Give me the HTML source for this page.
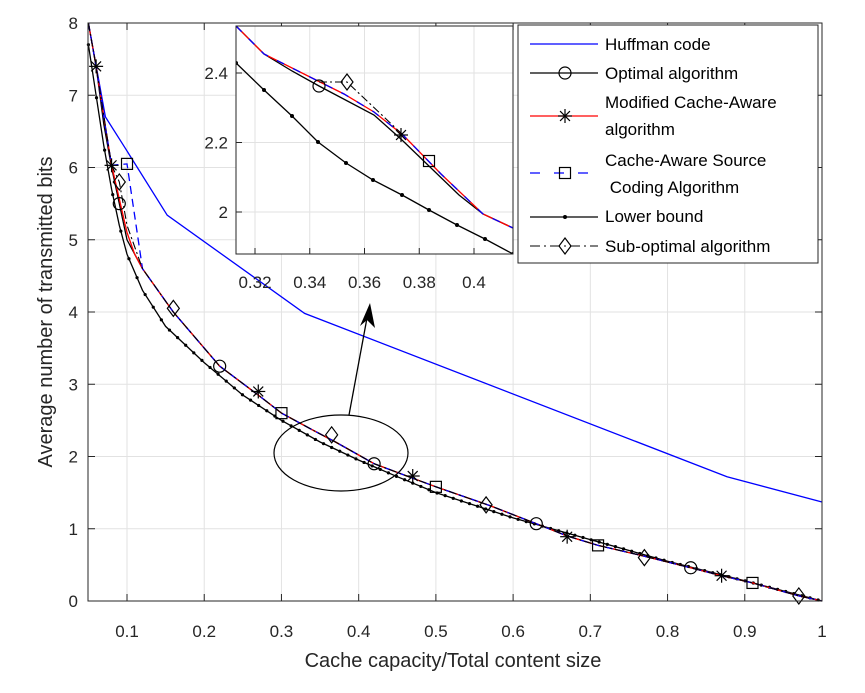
<!DOCTYPE html>
<html><head><meta charset="utf-8"><style>
html,body{margin:0;padding:0;background:#fff;}
svg{display:block;font-family:"Liberation Sans",Arial,sans-serif;}
</style></head><body>
<svg id="s" width="865" height="693" viewBox="0 0 865 693" xmlns="http://www.w3.org/2000/svg"></svg>
<script>
const S=document.getElementById('s');let h='';
const X=x=>88.4+(x-0.05)*772.2, Y=v=>601-v*72.25;
// grid
h+='<rect x="88" y="23" width="734" height="578" fill="#fff"/>';
for(let i=1;i<=10;i++){const x=X(i/10);h+=`<line x1="${x}" y1="23" x2="${x}" y2="601" stroke="#e2e2e2"/>`;}
for(let v=1;v<8;v++){h+=`<line x1="88" y1="${Y(v)}" x2="822" y2="${Y(v)}" stroke="#e2e2e2"/>`;}
function path(pts,fx,fy){return pts.map((p,i)=>(i?'L':'M')+fx(p[0]).toFixed(1)+','+fy(p[1]).toFixed(1)).join(' ');}
const lb=[[0.05,7.7],[0.06,7.0],[0.07,6.3],[0.08,5.7],[0.09,5.2],[0.1,4.8],[0.12,4.3],[0.15,3.8],[0.2,3.3],[0.25,2.85],[0.3,2.5],[0.35,2.2],[0.4,1.95],[0.45,1.72],[0.5,1.5],[0.6,1.15],[0.7,0.85],[0.8,0.55],[0.9,0.28],[1,0]];
const opt=[[0.05,8],[0.06,7.4],[0.07,6.6],[0.08,6.0],[0.09,5.5],[0.1,5.0],[0.12,4.6],[0.16,4.0],[0.22,3.25],[0.27,2.85],[0.3,2.6],[0.34,2.37],[0.37,2.2],[0.42,1.9],[0.47,1.7],[0.5,1.58],[0.57,1.32],[0.63,1.07],[0.67,0.9],[0.71,0.77],[0.77,0.62],[0.83,0.46],[0.87,0.35],[0.91,0.25],[0.97,0.07],[1,0]];
const tail=opt.filter(p=>p[0]>=0.12);
const red=[[0.05,8],[0.06,7.4],[0.07,6.7],[0.08,6.03],[0.1,5.1],[0.11,4.8],...tail];
const ca=[[0.05,8],[0.06,7.4],[0.07,6.7],[0.08,6.03],[0.1,6.05],...tail];
const so=[[0.05,8],[0.06,7.4],[0.08,6.03],[0.09,5.8],[0.1,5.2],...tail];
const huf=[[0.05,8],[0.072,6.7],[0.097,6.28],[0.152,5.34],[0.33,3.98],[0.877,1.72],[1,1.37]];
h+=`<path d="${path(huf,X,Y)}" fill="none" stroke="#0000ff" stroke-width="1.3"/>`;
h+=`<path d="${path(lb,X,Y)}" fill="none" stroke="#000" stroke-width="1.3"/>`;
for(let x=0.05;x<=1.001;x+=0.0105){let i=lb.findIndex(p=>p[0]>=x);if(i<1)i=1;const a=lb[i-1],b=lb[i];const v=a[1]+(b[1]-a[1])*(x-a[0])/(b[0]-a[0]);h+=`<circle cx="${X(x)}" cy="${Y(v)}" r="1.6"/>`;}
h+=`<path d="${path(opt,X,Y)}" fill="none" stroke="#000" stroke-width="1.3"/>`;
h+=`<path d="${path(red,X,Y)}" fill="none" stroke="#ff0000" stroke-width="1.3"/>`;
h+=`<path d="${path(ca,X,Y)}" fill="none" stroke="#0000ff" stroke-width="1.3" stroke-dasharray="8,5"/>`;
h+=`<path d="${path(so,X,Y)}" fill="none" stroke="#000" stroke-width="1.1" stroke-dasharray="8,3,2,3"/>`;
function circ(x,y){return `<circle cx="${x}" cy="${y}" r="6" fill="none" stroke="#000" stroke-width="1.2"/>`;}
function star(x,y){let s='';for(let k=0;k<4;k++){const a=k*Math.PI/4;s+=`<line x1="${x-7*Math.cos(a)}" y1="${y-7*Math.sin(a)}" x2="${x+7*Math.cos(a)}" y2="${y+7*Math.sin(a)}" stroke="#000" stroke-width="1.2"/>`;}return s;}
function sq(x,y){return `<rect x="${x-5.5}" y="${y-5.5}" width="11" height="11" fill="none" stroke="#000" stroke-width="1.2"/>`;}
function dia(x,y){return `<path d="M${x},${y-8} L${x+6},${y} L${x},${y+8} L${x-6},${y} Z" fill="none" stroke="#000" stroke-width="1.2"/>`;}
[[0.09,5.5],[0.22,3.25],[0.42,1.9],[0.63,1.07],[0.83,0.46]].forEach(p=>h+=circ(X(p[0]),Y(p[1])));
[[0.06,7.4],[0.08,6.03],[0.27,2.9],[0.47,1.73],[0.67,0.89],[0.87,0.35]].forEach(p=>h+=star(X(p[0]),Y(p[1])));
[[0.1,6.05],[0.3,2.6],[0.5,1.58],[0.71,0.77],[0.91,0.25]].forEach(p=>h+=sq(X(p[0]),Y(p[1])));
[[0.09,5.8],[0.16,4.05],[0.365,2.3],[0.565,1.33],[0.77,0.6],[0.97,0.07]].forEach(p=>h+=dia(X(p[0]),Y(p[1])));
// axes box & ticks
h+='<rect x="88" y="23" width="734" height="578" fill="none" stroke="#262626" stroke-width="1"/>';
for(let i=1;i<=10;i++){const x=X(i/10);h+=`<line x1="${x}" y1="601" x2="${x}" y2="594" stroke="#262626"/><line x1="${x}" y1="23" x2="${x}" y2="30" stroke="#262626"/>`;h+=`<text x="${x}" y="637" font-size="17" text-anchor="middle" fill="#262626">${i==10?'1':'0.'+i}</text>`;}
for(let v=0;v<=8;v++){const y=Y(v);h+=`<line x1="88" y1="${y}" x2="95" y2="${y}" stroke="#262626"/><line x1="822" y1="${y}" x2="815" y2="${y}" stroke="#262626"/>`;h+=`<text x="78" y="${y+6}" font-size="17" text-anchor="end" fill="#262626">${v}</text>`;}
h+='<text x="453" y="667" font-size="20" text-anchor="middle" fill="#262626">Cache capacity/Total content size</text>';
h+='<text transform="translate(52,312) rotate(-90)" font-size="20" text-anchor="middle" fill="#262626">Average number of transmitted bits</text>';
// ellipse & arrow
h+='<ellipse cx="341" cy="453" rx="67" ry="38" fill="none" stroke="#000" stroke-width="1.2"/>';
h+='<line x1="349" y1="415" x2="367" y2="318" stroke="#000" stroke-width="1.3"/><path d="M370,303 L360,326 L367,320 L375,328 Z" fill="#000"/>';
// inset
const IX=x=>255+(x-0.32)*2737.5, IY=v=>212-(v-2)*347.5;
h+='<rect x="236" y="26" width="277" height="228" fill="#fff"/>';
h+='<clipPath id="c"><rect x="236" y="26" width="277" height="228"/></clipPath>';
[0.32,0.34,0.36,0.38,0.4].forEach(x=>h+=`<line x1="${IX(x)}" y1="26" x2="${IX(x)}" y2="254" stroke="#e2e2e2"/>`);
[2,2.2,2.4].forEach(v=>h+=`<line x1="236" y1="${IY(v)}" x2="513" y2="${IY(v)}" stroke="#e2e2e2"/>`);
const P=a=>a.map((p,i)=>(i?'L':'M')+p[0]+','+p[1]).join(' ');
h+='<g clip-path="url(#c)">';
const ilb=[[236,63],[264,90],[292,116],[318,142],[346,163],[373,180],[402,195],[429,210],[457,225],[485,239],[513,254]];
h+=`<path d="${P(ilb)}" fill="none" stroke="#000" stroke-width="1.3"/>`;ilb.forEach(p=>h+=`<circle cx="${p[0]}" cy="${p[1]}" r="2"/>`);
h+=`<path d="${P([[236,26],[264,54],[292,71],[319,86],[374,115],[402,140],[459,195],[483,214],[513,228]])}" fill="none" stroke="#000" stroke-width="1.3"/>`;
const ib=[[236,26],[264,54],[316,80],[344,94],[374,112],[403,135],[441,174],[483,214],[513,228]];
h+=`<path d="${P(ib)}" fill="none" stroke="#ff0000" stroke-width="1.3"/>`;
h+=`<path d="${P(ib)}" fill="none" stroke="#0000ff" stroke-width="1.3" stroke-dasharray="8,10"/>`;
h+=`<path d="${P([[319,82],[347,82],[403,135]])}" fill="none" stroke="#000" stroke-width="1.1" stroke-dasharray="8,3,2,3"/>`;
h+='</g>';
h+=circ(319,86)+dia(347,82)+star(401,135)+sq(429,161);
h+='<rect x="236" y="26" width="277" height="228" fill="none" stroke="#262626"/>';
[0.32,0.34,0.36,0.38,0.4].forEach(x=>h+=`<line x1="${IX(x)}" y1="254" x2="${IX(x)}" y2="248" stroke="#262626"/><text x="${IX(x)}" y="288" font-size="17" text-anchor="middle" fill="#262626">${x}</text>`);
[2,2.2,2.4].forEach(v=>h+=`<line x1="236" y1="${IY(v)}" x2="242" y2="${IY(v)}" stroke="#262626"/><text x="228" y="${IY(v)+6}" font-size="17" text-anchor="end" fill="#262626">${v==2?'2':v}</text>`);
// legend
h+='<rect x="518" y="25" width="300" height="238" fill="#fff" stroke="#262626"/>';
const T=(y,t)=>`<text x="605" y="${y+6}" font-size="17" fill="#000">${t}</text>`;
h+='<line x1="530" y1="44" x2="598" y2="44" stroke="#0000ff" stroke-width="1.3"/>'+T(44,'Huffman code');
h+='<line x1="530" y1="73" x2="598" y2="73" stroke="#000" stroke-width="1.3"/>'+circ(565,73)+T(73,'Optimal algorithm');
h+='<line x1="530" y1="116" x2="598" y2="116" stroke="#ff0000" stroke-width="1.3"/>'+star(565,116)+T(102,'Modified Cache-Aware')+T(129,'algorithm');
h+='<line x1="530" y1="173" x2="598" y2="173" stroke="#0000ff" stroke-width="1.3" stroke-dasharray="10,14"/>'+sq(565,173)+T(160,'Cache-Aware Source')+T(187,'&#160;Coding Algorithm');
h+='<line x1="530" y1="217" x2="598" y2="217" stroke="#000" stroke-width="1.3"/><circle cx="565" cy="217" r="2"/>'+T(216,'Lower bound');
h+='<line x1="530" y1="246" x2="598" y2="246" stroke="#000" stroke-width="1.1" stroke-dasharray="10,4,2,4"/>'+dia(565,246)+T(246,'Sub-optimal algorithm');
S.innerHTML=h;
</script>
</body></html>
